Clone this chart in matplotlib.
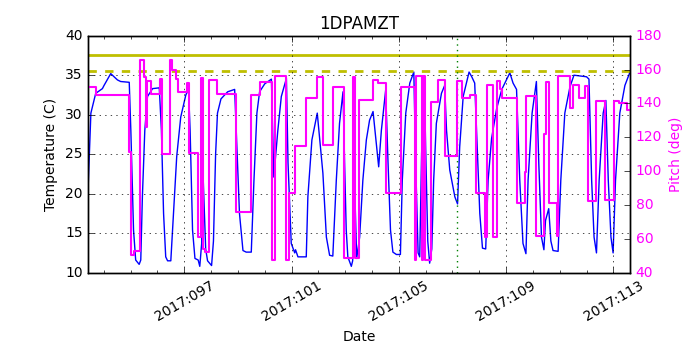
import matplotlib
matplotlib.use('Agg')
import matplotlib.pyplot as plt

plt.style.use('classic')
plt.rcParams['font.size'] = 10
plt.rcParams['figure.facecolor'] = 'white'
plt.rcParams['savefig.facecolor'] = 'white'

# --- data: day of year 2017 ---
temp_days = [93.42, 93.52, 93.70, 93.95, 94.01, 94.26, 94.51, 94.63, 94.95, 95.01,
             95.11, 95.19, 95.32, 95.38, 95.44, 95.53, 95.63, 95.82, 96.07, 96.15,
             96.23, 96.31, 96.38, 96.50, 96.60, 96.72, 96.87, 97.06, 97.16, 97.22,
             97.31, 97.40, 97.52, 97.58, 97.65, 97.68, 97.80, 97.87, 98.02, 98.09,
             98.17, 98.24, 98.37, 98.62, 98.88, 98.94, 99.06, 99.19, 99.31, 99.50,
             99.60, 99.71, 99.81, 100.00, 100.25, 100.34, 100.49, 100.62, 100.81, 100.87,
             100.99, 101.12, 101.15, 101.24, 101.55, 101.61, 101.76, 101.96, 102.17, 102.30,
             102.42, 102.54, 102.67, 102.79, 102.92, 102.98, 103.04, 103.10, 103.23, 103.28,
             103.35, 103.43, 103.54, 103.66, 103.79, 103.91, 104.04, 104.25, 104.35, 104.51,
             104.60, 104.69, 104.78, 104.91, 105.06, 105.13, 105.26, 105.41, 105.56, 105.63,
             105.72, 105.78, 105.85, 105.95, 106.00, 106.08, 106.15, 106.23, 106.30, 106.40,
             106.59, 106.71, 106.78, 106.90, 107.09, 107.19, 107.27, 107.40, 107.62, 107.72,
             107.83, 107.90, 108.02, 108.12, 108.24, 108.33, 108.46, 108.65, 108.84, 109.14,
             109.26, 109.39, 109.51, 109.63, 109.74, 109.82, 109.97, 110.13, 110.22, 110.32,
             110.41, 110.47, 110.59, 110.67, 110.75, 110.94, 111.04, 111.19, 111.38, 111.53,
             112.00, 112.09, 112.19, 112.28, 112.37, 112.47, 112.62, 112.72, 112.81, 112.91,
             112.99, 113.08, 113.24, 113.43, 113.62]
temp_vals = [21.0, 30.2, 32.7, 33.3, 33.7, 35.2, 34.4, 34.2, 34.1, 28.0,
             15.4, 11.6, 11.05, 11.6, 19.6, 28.0, 32.3, 33.3, 33.4, 28.0,
             17.5, 12.0, 11.5, 11.5, 17.5, 24.7, 29.7, 32.5, 33.2, 28.0,
             15.4, 11.8, 11.6, 10.8, 13.7, 24.5, 13.0, 11.5, 10.9, 14.0,
             25.0, 30.2, 32.0, 32.9, 33.2, 28.0, 17.5, 12.8, 12.6, 12.6,
             21.7, 30.2, 32.9, 33.9, 34.5, 22.1, 28.0, 32.3, 34.6, 23.9,
             13.7, 12.5, 12.9, 12.0, 12.0, 19.6, 26.8, 30.2, 22.6, 14.5,
             12.2, 12.1, 21.7, 28.9, 32.9, 23.8, 15.4, 12.0, 10.8, 11.5,
             21.5, 11.8, 14.5, 21.7, 26.8, 29.3, 30.4, 23.4, 28.0, 33.1,
             23.8, 15.4, 12.6, 12.3, 12.3, 21.7, 30.2, 34.0, 35.4, 23.8,
             12.5, 12.0, 25.0, 34.5, 26.0, 14.0, 11.2, 13.0, 21.7, 28.9,
             32.7, 33.7, 28.0, 23.0, 19.6, 18.7, 25.9, 32.3, 35.4, 34.8,
             34.0, 28.0, 17.5, 13.1, 13.0, 21.7, 27.0, 30.8, 33.2, 35.3,
             34.0, 33.2, 21.7, 13.7, 12.4, 21.7, 30.2, 34.2, 23.8, 14.5,
             12.9, 16.6, 18.1, 14.0, 12.8, 12.7, 21.7, 30.2, 33.5, 35.0,
             34.8, 34.5, 21.7, 14.5, 12.5, 21.7, 30.2, 31.8, 21.7, 14.5,
             12.5, 21.7, 30.2, 33.7, 35.4]

pitch_days = [93.42, 93.70, 94.95, 95.00, 95.13, 95.34, 95.51, 95.57, 95.63, 95.75,
              96.10, 96.19, 96.48, 96.56, 96.69, 96.78, 97.12, 97.19, 97.50, 97.63,
              97.70, 97.79, 97.94, 98.24, 98.94, 99.50, 99.81, 100.28, 100.37, 100.81,
              100.89, 101.12, 101.55, 101.96, 102.17, 102.54, 102.94, 103.29, 103.38, 103.50,
              104.04, 104.22, 104.54, 105.07, 105.59, 105.66, 105.85, 105.91, 105.99, 106.21,
              106.46, 106.71, 107.17, 107.34, 107.65, 107.87, 108.21, 108.27, 108.51, 108.65,
              108.77, 108.83, 109.39, 109.70, 109.76, 110.13, 110.42, 110.47, 110.59, 110.88,
              110.94, 111.38, 111.50, 111.71, 111.96, 112.06, 112.37, 112.68, 113.02, 113.21,
              113.49, 113.62]
pitch_vals = [149.8, 145.1, 111.4, 50.4, 52.9, 165.5, 155.7, 126.1, 153.3, 145.4,
              154.7, 110.0, 165.5, 159.6, 154.7, 146.8, 151.8, 110.8, 61.2, 155.0,
              54.0, 52.0, 153.7, 145.4, 75.9, 144.9, 152.7, 47.4, 156.1, 47.4,
              86.8, 114.7, 142.9, 155.7, 115.7, 149.4, 48.4, 155.7, 48.4, 142.3,
              154.1, 152.1, 86.8, 149.8, 47.4, 156.1, 47.4, 156.1, 47.4, 140.9,
              153.7, 108.8, 153.1, 142.9, 144.9, 87.2, 61.2, 150.8, 61.2, 153.3,
              148.8, 142.9, 80.9, 99.6, 144.3, 61.5, 122.2, 152.7, 81.2, 61.5,
              156.1, 137.0, 151.1, 143.4, 150.2, 82.2, 141.5, 82.8, 141.3, 140.4,
              136.0, 136.0]

planning_limit = 37.5
caution_limit = 35.5
now_day = 107.18
tick_days = [97, 101, 105, 109, 113]
tick_labels = ['2017:097', '2017:101', '2017:105', '2017:109', '2017:113']

MAGENTA = '#ff00ff'

fig = plt.figure(figsize=(7, 3.5), dpi=100)
ax = fig.add_axes([0.126, 0.221, 0.774, 0.677])
ax.plot(temp_days, temp_vals, '-b', lw=1.0)
ax.axhline(planning_limit, color='y', lw=2, ls='-')
ax.axhline(caution_limit, color='y', lw=2, ls='--')
ax.axvline(now_day, color='g', lw=1, ls=':')
ax.set_xlim(93.42, 113.62)
ax.set_ylim(10, 40)
ax.set_xticks(tick_days)
ax.set_xticklabels(tick_labels, rotation=30, ha='center')
ax.set_xticks(range(94, 114), minor=True)
ax.grid(True)
ax.set_title('1DPAMZT')
ax.set_xlabel('Date')
ax.set_ylabel('Temperature (C)')

ax2 = ax.twinx()
ax2.step(pitch_days, pitch_vals, where='post', color=MAGENTA, lw=1.5)
ax2.set_ylim(40, 180)
ax2.set_ylabel('Pitch (deg)', color=MAGENTA)
for t in ax2.get_yticklabels():
    t.set_color(MAGENTA)

fig.savefig('out.png', dpi=100)
